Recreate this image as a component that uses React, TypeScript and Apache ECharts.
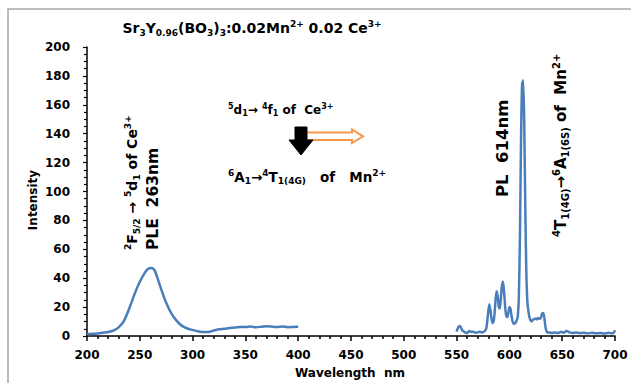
import React, { useEffect, useRef } from "react";
import * as echarts from "echarts";

const pleWavelength = [200, 205, 210, 215, 220, 225, 230, 235, 240, 245, 250, 255, 258, 261, 264, 267, 270, 275, 280, 285, 290, 295, 300, 305, 310, 315, 320, 325, 330, 335, 340, 345, 350, 355, 360, 365, 370, 375, 380, 385, 390, 395, 400];
const pleIntensity = [1.2, 1.5, 1.8, 2.3, 2.8, 3.8, 6, 10.5, 19, 29, 37.5, 44, 46.5, 47, 45.5, 39.5, 33, 23, 15.5, 10.5, 7, 5.2, 4.2, 3.3, 2.7, 2.8, 3.8, 4.6, 5, 5.5, 5.8, 6.3, 6.2, 6.5, 6.1, 6.4, 6.8, 6.5, 6.3, 6.6, 6.1, 6.3, 6.4];

const plWavelength = [550, 551, 552, 553, 554, 555, 556, 557, 558, 560, 562, 564, 566, 568, 570, 572, 574, 576, 578, 579, 580, 581, 582, 583, 584, 585, 586, 587, 588, 589, 590, 591, 592, 593, 594, 595, 596, 597, 598, 599, 600, 601, 602, 603, 604, 605, 606, 607, 608, 609, 610, 611, 612, 613, 614, 615, 616, 617, 618, 619, 620, 621, 622, 623, 624, 625, 626, 627, 628, 629, 630, 631, 632, 633, 634, 635, 636, 638, 640, 643, 646, 649, 651, 654, 657, 660, 663, 666, 670, 674, 678, 682, 686, 690, 694, 697, 699, 700];
const plIntensity = [3, 5, 6.5, 7, 6, 4.5, 3.5, 3, 2.5, 2, 3.5, 2.8, 3, 2.2, 2.5, 3, 2.5, 3, 5, 10, 17, 22, 18, 12, 9, 10, 16, 26, 31, 27, 20, 19, 27, 35, 37.5, 30, 20, 14, 13, 16, 20, 19, 14, 10, 8.5, 8.5, 9.5, 11, 14, 28, 70, 135, 174, 177, 150, 92, 45, 24, 17, 13, 11, 10, 11, 11.5, 12, 12, 11.5, 12.5, 12, 12, 13, 15.5, 16, 13, 7, 3.5, 2.5, 2.5, 2, 2.5, 2, 3, 2.2, 3.5, 2.5, 2, 2.5, 2, 2.3, 1.8, 2.2, 1.9, 2, 1.7, 2.2, 1.8, 2.5, 4];

const xMin = 200;
const xMax = 700;
const xStep = 50;
const yMin = 0;
const yMax = 200;
const yStep = 20;

const titleText = "{n|Sr}{sub|3}{n|Y}{sub|0.96}{n|(BO}{sub|3}{n|)}{sub|3}{n|:0.02Mn}{sup|2+}{n| 0.02 Ce}{sup|3+}";
const pleTransition = "{sup|2}{n|F}{sub|5/2}{n| → }{sup|5}{n|d}{sub|1}{n| of Ce}{sup|3+}";
const pleLabel = "{n|PLE  263nm}";
const plLabel = "{n|PL  614nm}";
const plTransition = "{sup|4}{n|T}{sub|1(4G)}{n|→}{sup|6}{n|A}{sub|1(6S)}{n| of  Mn}{sup|2+}";
const ceTransition = "{sup|5}{n|d}{sub|1}{n|→ }{sup|4}{n|f}{sub|1}{n| of  Ce}{sup|3+}";
const mnTransition = "{sup|6}{n|A}{sub|1}{n|→}{sup|4}{n|T}{sub|1(4G)}{n|   of   Mn}{sup|2+}";

const FONT = "DejaVu Sans";

function rich(size: number) {
  const s = Math.round(size * 0.65);
  return {
    n: { fontSize: size, fontWeight: "bold", fontFamily: FONT, fill: "#000", lineHeight: Math.round(size * 1.25) },
    sup: { fontSize: s, fontWeight: "bold", fontFamily: FONT, fill: "#000", lineHeight: s + 1, verticalAlign: "top" },
    sub: { fontSize: s, fontWeight: "bold", fontFamily: FONT, fill: "#000", lineHeight: s + 1, verticalAlign: "bottom" },
  };
}

function richText(text: string, x: number, y: number, size: number, align: string, rotate = 0) {
  return {
    type: "text",
    x,
    y,
    rotation: rotate,
    style: {
      text,
      rich: rich(size),
      align,
      verticalAlign: "middle",
      fontFamily: FONT,
      fontWeight: "bold",
      fontSize: size,
      fill: "#000",
    },
  };
}

export default function App() {
  const ref = useRef<HTMLDivElement>(null);
  useEffect(() => {
    if (!ref.current) return;
    const chart = echarts.init(ref.current, null, { renderer: "svg" });
    const ple = pleWavelength.map((w, i) => [w, pleIntensity[i]]);
    const pl = plWavelength.map((w, i) => [w, plIntensity[i]]);
    const axisLabelStyle = { color: "#000", fontFamily: FONT, fontWeight: "bold" as const, fontSize: 12 };
    chart.setOption({
      animation: false,
      backgroundColor: "#fff",
      grid: { left: 87, right: 16, top: 47, bottom: 47 },
      xAxis: {
        type: "value",
        min: xMin,
        max: xMax,
        interval: xStep,
        axisLine: { show: true, lineStyle: { color: "#000", width: 1.5 } },
        axisTick: { show: true, length: 5, lineStyle: { color: "#000", width: 1.5 } },
        minorTick: { show: true, splitNumber: 5, length: 3, lineStyle: { color: "#000", width: 1.5 } },
        splitLine: { show: false },
        axisLabel: { ...axisLabelStyle, margin: 13 },
      },
      yAxis: {
        type: "value",
        min: yMin,
        max: yMax,
        interval: yStep,
        axisLine: { show: true, lineStyle: { color: "#000", width: 1.5 } },
        axisTick: { show: true, length: 4, lineStyle: { color: "#000", width: 1.2 } },
        minorTick: { show: true, splitNumber: 4, length: 3, lineStyle: { color: "#000", width: 1.2 } },
        splitLine: { show: false },
        axisLabel: { ...axisLabelStyle, margin: 17 },
      },
      graphic: [
        {
          type: "rect",
          silent: true,
          shape: { x: 8, y: 9, width: 700, height: 500 },
          style: { fill: "none", stroke: "#a8a8a8", lineWidth: 1.5 },
        },
        richText(titleText, 252, 28, 14, "center"),
        {
          type: "text",
          x: 33,
          y: 200,
          rotation: Math.PI / 2,
          style: { text: "Intensity", align: "center", verticalAlign: "middle", fontFamily: FONT, fontWeight: "bold", fontSize: 12, fill: "#000" },
        },
        {
          type: "text",
          x: 350,
          y: 373,
          style: { text: "Wavelength  nm", align: "center", verticalAlign: "middle", fontFamily: FONT, fontWeight: "bold", fontSize: 12, fill: "#000" },
        },
        richText(pleTransition, 132, 250, 14, "left", Math.PI / 2),
        richText(pleLabel, 153, 250, 15.5, "left", Math.PI / 2),
        richText(plLabel, 502, 197, 16.5, "left", Math.PI / 2),
        richText(plTransition, 561, 237, 15, "left", Math.PI / 2),
        richText(ceTransition, 228, 110, 12, "left"),
        richText(mnTransition, 228, 177, 13.5, "left"),
        {
          type: "polygon",
          shape: { points: [[306, 132.5], [352, 132.5], [352, 129.5], [363, 136.3], [352, 143], [352, 140], [306, 140]] },
          style: { fill: "#fff", stroke: "#F79646", lineWidth: 2 },
        },
        {
          type: "polygon",
          shape: { points: [[295, 127], [307, 127], [307, 140], [313, 140], [301, 155], [289, 140], [295, 140]] },
          style: { fill: "#000", stroke: "#000", lineWidth: 1 },
        },
      ],
      series: [
        {
          type: "line",
          data: ple,
          showSymbol: false,
          smooth: 0.3,
          lineStyle: { color: "#4A7EBB", width: 2.5 },
          itemStyle: { color: "#4A7EBB" },
        },
        {
          type: "line",
          data: pl,
          showSymbol: false,
          smooth: 0.2,
          lineStyle: { color: "#4A7EBB", width: 2.5 },
          itemStyle: { color: "#4A7EBB" },
        },
      ],
    });
    return () => chart.dispose();
  }, []);
  return <div ref={ref} style={{ position: "fixed", left: 0, top: 0, width: 631, height: 383 }} />;
}
